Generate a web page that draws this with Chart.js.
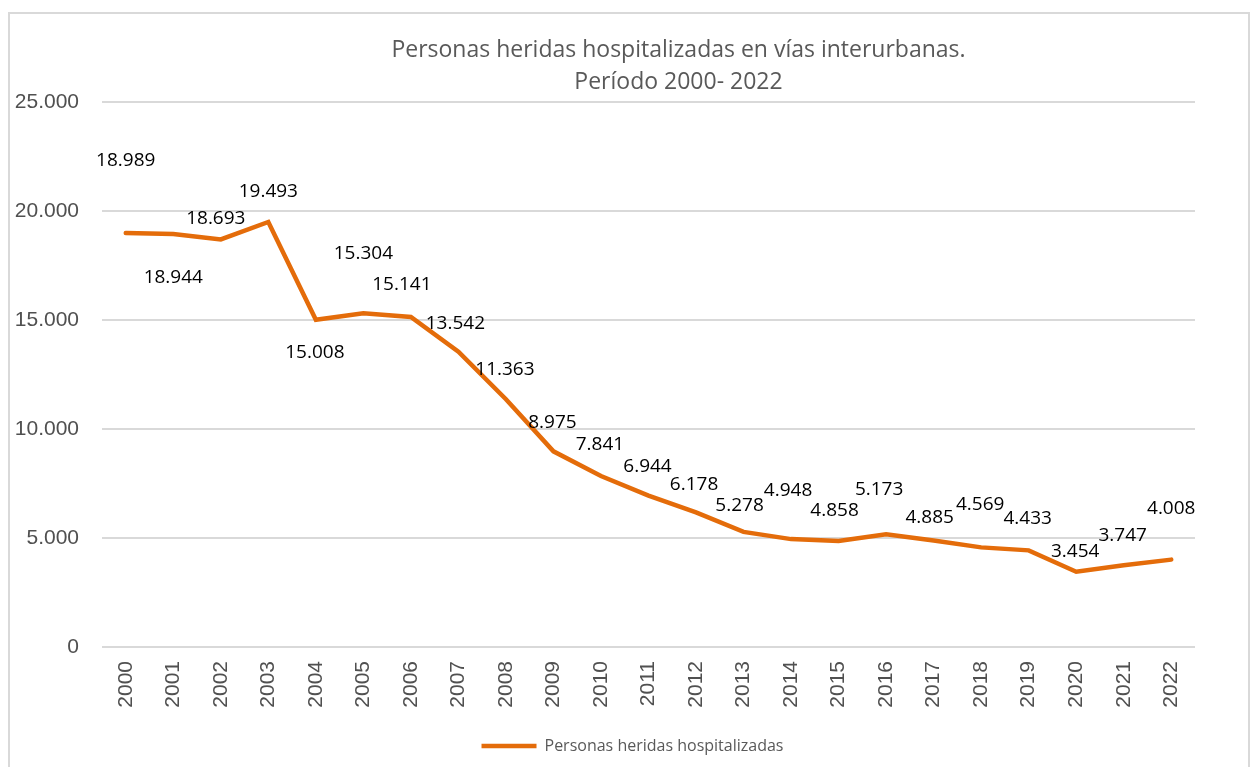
<!DOCTYPE html>
<html>
<head>
<meta charset="utf-8">
<script src="https://cdn.jsdelivr.net/npm/chart.js@4"></script>
<style>
  html, body { margin: 0; padding: 0; background: #fff; }
  #wrap { width: 1254px; height: 767px; }
</style>
</head>
<body>
<div id="wrap"><canvas id="heridos"></canvas></div>
<script>
////////////////// Data ///////////////////////
const years = ["2000", "2001", "2002", "2003", "2004", "2005", "2006", "2007", "2008", "2009", "2010", "2011",
  "2012", "2013", "2014", "2015", "2016", "2017", "2018", "2019", "2020", "2021", "2022"];
const hospitalizados = [18989, 18944, 18693, 19493, 15008, 15304, 15141, 13542, 11363, 8975, 7841, 6944,
  6178, 5278, 4948, 4858, 5173, 4885, 4569, 4433, 3454, 3747, 4008];
const yTicks = [0, 5000, 10000, 15000, 20000, 25000];

// where each value label sits relative to its point (px), like the Excel layout
const labelShift = [
  [0, -72], [0, 44], [-5, -21], [0, -30], [-1, 33], [0, -60], [-9, -32], [-3, -28],
  [-1, -30], [-1, -29], [-1, -31], [-1, -29], [-2, -28], [-4, -26], [-3, -49], [-4, -30],
  [-7, -45], [-4, -23], [-1, -43], [-1, -32], [-1, -20], [-1, -30], [0, -51],
];

const fmt = (v) => String(v).replace(/\B(?=(\d{3})+(?!\d))/g, ".");
const grey = "#595959";

/// frame + value labels
const frame = {
  id: "frame",
  beforeDraw(chart) {
    const ctx = chart.ctx;
    ctx.save();
    ctx.fillStyle = "#fff";
    ctx.fillRect(0, 0, chart.width, chart.height);
    ctx.strokeStyle = "#d9d9d9";
    ctx.lineWidth = 2;
    ctx.strokeRect(9, 13, 1240, 800);
    ctx.restore();
  },
  afterLayout(chart) {
    // Excel centres title and legend a bit right of the canvas middle
    if (chart.titleBlock) {
      chart.titleBlock.left += 76;
      chart.titleBlock.right += 76;
    }
    if (chart.legend) {
      chart.legend.left += 30;
      chart.legend.right += 30;
    }
  },
};

const valueLabels = {
  id: "valueLabels",
  afterDatasetsDraw(chart) {
    const ctx = chart.ctx;
    const meta = chart.getDatasetMeta(0);
    ctx.save();
    ctx.font = "19px 'Open Sans'";
    ctx.fillStyle = "#000";
    ctx.textAlign = "center";
    ctx.textBaseline = "middle";
    meta.data.forEach((pt, i) => {
      const s = labelShift[i] || [0, -30];
      ctx.fillText(fmt(hospitalizados[i]), pt.x + s[0], pt.y + s[1]);
    });
    ctx.restore();
  },
};

const ctx = document.getElementById("heridos");
const myChart = new Chart(ctx, {
  type: "line",
  data: {
    labels: years,
    datasets: [
      {
        label: "Personas heridas hospitalizadas",
        data: hospitalizados,
        borderColor: "#E46C0A",
        backgroundColor: "#E46C0A",
        borderWidth: 4.5,
        borderCapStyle: "round",
        pointRadius: 0,
        pointHoverRadius: 0,
        tension: 0,
      },
    ],
  },
  options: {
    responsive: true,
    maintainAspectRatio: false,
    animation: false,
    layout: {
      padding: { left: 10, right: 59, top: 0, bottom: 3 },
    },
    scales: {
      x: {
        offset: true,
        grid: { display: false, drawTicks: false },
        border: { display: false },
        ticks: {
          minRotation: 90,
          maxRotation: 90,
          padding: 14,
          color: "#505050",
          font: { family: "'Liberation Sans'", size: 21 },
        },
        afterFit: (s) => { s.height = 83; },
      },
      y: {
        min: yTicks[0],
        max: yTicks[yTicks.length - 1],
        grid: { color: "#d9d9d9", lineWidth: 2, drawTicks: false },
        border: { display: false },
        ticks: {
          stepSize: yTicks[1] - yTicks[0],
          padding: 23,
          color: "#505050",
          font: { family: "'Liberation Sans'", size: 21 },
          callback: (v) => fmt(v),
        },
        afterFit: (s) => { s.width = 92; },
      },
    },
    plugins: {
      title: {
        display: true,
        text: ["Personas heridas hospitalizadas en vías interurbanas.", "Período 2000- 2022"],
        color: grey,
        font: { family: "'Open Sans'", size: 23, weight: "normal", lineHeight: 1.39 },
        padding: { top: 34, bottom: 4 },
      },
      legend: {
        display: true,
        position: "bottom",
        labels: {
          usePointStyle: true,
          pointStyle: "line",
          pointStyleWidth: 55,
          color: grey,
          padding: 8,
          font: { family: "'Open Sans'", size: 16 },
        },
      },
      tooltip: { enabled: false },
    },
  },
  plugins: [frame, valueLabels],
});
</script>
</body>
</html>
